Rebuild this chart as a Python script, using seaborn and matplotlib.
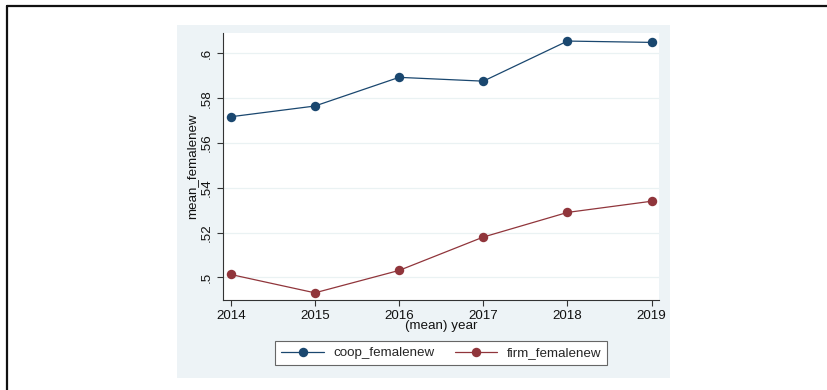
import matplotlib
matplotlib.use("Agg")
import matplotlib.pyplot as plt
from matplotlib.patches import Rectangle
from matplotlib.lines import Line2D
import seaborn as sns
import pandas as pd

# Mean share of women among new members, by year
years = [2014, 2015, 2016, 2017, 2018, 2019]
coop_femalenew = [0.5717, 0.5765, 0.5893, 0.5876, 0.6055, 0.6049]
firm_femalenew = [0.5013, 0.4931, 0.5031, 0.5180, 0.5290, 0.5340]
y_ticks = [0.50, 0.52, 0.54, 0.56, 0.58, 0.60]
y_tick_labels = [".5", ".52", ".54", ".56", ".58", ".6"]
series_names = ["coop_femalenew", "firm_femalenew"]

navy = "#1a476f"
maroon = "#90353b"
panel_bg = "#EDF3F6"
FS = 9.6

sns.set_style("white")
plt.rcParams["font.family"] = ["Liberation Sans", "DejaVu Sans"]

W, H = 828, 390
fig = plt.figure(figsize=(W / 100, H / 100), dpi=100)
fig.patch.set_facecolor("white")


def fx(px):
    return px / W


def fy(py):
    return 1 - py / H


# graph region background
fig.add_artist(Rectangle((fx(177), fy(378)), fx(670) - fx(177), fy(25) - fy(378),
                         transform=fig.transFigure, facecolor=panel_bg,
                         edgecolor="none", zorder=0))
# frame lines on the left and top
fig.add_artist(Line2D([fx(7), fx(7)], [0, fy(6)], transform=fig.transFigure,
                      color="#111111", lw=1.6))
fig.add_artist(Line2D([fx(7), 1], [fy(6), fy(6)], transform=fig.transFigure,
                      color="#111111", lw=1.6))

left, right, top, bottom = 222.7, 659, 33, 300
ax = fig.add_axes([fx(left), fy(bottom), fx(right) - fx(left), fy(top) - fy(bottom)])
ax.set_facecolor("white")

df = pd.DataFrame({"year": years,
                   series_names[0]: coop_femalenew,
                   series_names[1]: firm_femalenew})

for name, col in zip(series_names, [navy, maroon]):
    sns.lineplot(data=df, x="year", y=name, ax=ax, color=col, marker="o",
                 markersize=6.8, markeredgewidth=0, linewidth=0.9, label=name)

ax.set_xlim(2013.905, 2019.087)
ax.set_ylim(0.4899, 0.6091)
ax.set_xticks(years)
ax.set_xticklabels([str(y) for y in years])
ax.set_yticks(y_ticks)
ax.set_yticklabels(y_tick_labels, rotation=90, va="center")

ax.grid(axis="y", color="#EAF2F3", linewidth=0.9)
ax.grid(axis="x", visible=False)

for s in ["top", "right"]:
    ax.spines[s].set_visible(False)
for s in ["left", "bottom"]:
    ax.spines[s].set_color("#333333")
    ax.spines[s].set_linewidth(0.8)

ax.tick_params(axis="both", which="major", length=4, width=0.8, color="#333333",
               labelsize=FS, labelcolor="#111111", pad=3.2, direction="out",
               bottom=True, left=True)

ax.set_xlabel("(mean) year", fontsize=FS, color="#111111", labelpad=-1.5)
ax.set_ylabel("mean_femalenew", fontsize=FS, color="#111111", labelpad=1.5)

ax.legend_.remove()
handles, labels = ax.get_legend_handles_labels()
leg = fig.legend(handles, labels, loc="center",
                 bbox_to_anchor=(fx(441.2), fy(353)), ncol=2, fontsize=FS,
                 frameon=True, fancybox=False, framealpha=1,
                 edgecolor="#666666", handlelength=3.2, handletextpad=0.7,
                 columnspacing=1.5, borderpad=0.45, borderaxespad=0)
leg.get_frame().set_linewidth(0.8)

fig.savefig("out.png", dpi=100, facecolor="white")
